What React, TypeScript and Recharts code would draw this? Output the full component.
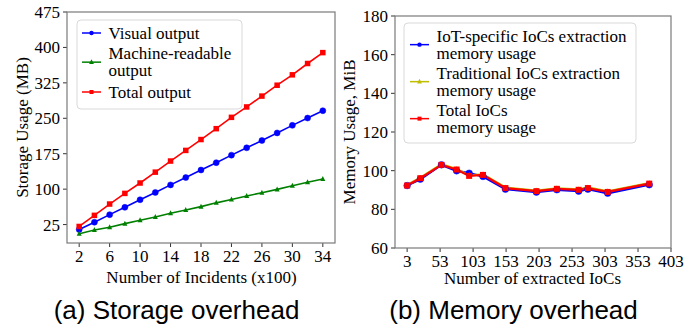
import React from "react";
import { LineChart, Line, XAxis, YAxis } from "recharts";

// ---------- Data: (a) Storage overhead ----------
const incidents = [2, 4, 6, 8, 10, 12, 14, 16, 18, 20, 22, 24, 26, 28, 30, 32, 34];
const visualOutput = [14.5, 30, 46, 61.5, 77.5, 93, 109, 124.5, 140.5, 156, 172, 187.5, 203, 219, 235, 250.5, 266];
const machineOutput = [5.5, 13.5, 19.5, 27, 34, 41, 49, 56, 63, 71, 78, 85.5, 92.5, 99.5, 107, 114.5, 121.5];
const totalOutput = [21, 44.5, 68.5, 91, 113, 136, 159.5, 182, 205, 228, 252, 274, 297, 320, 342, 366, 389];
const storageXTicks = [2, 6, 10, 14, 18, 22, 26, 30, 34];
const storageYTicks = [25, 100, 175, 250, 325, 400, 475];

// ---------- Data: (b) Memory overhead ----------
const iocCounts = [3, 23, 55, 78, 97, 118, 152, 199, 230, 263, 277, 307, 370];
const iotMem = [92.3, 95.6, 103, 99.9, 98.7, 97, 90.4, 88.9, 90.1, 89.4, 90.4, 88.3, 92.7];
const tradMem = [92.6, 96.4, 103.3, 100.9, 97.6, 98.1, 91.3, 89.7, 90.9, 90.4, 91.3, 89.3, 93.6];
const totalMem = [92.3, 96.1, 103, 100.6, 97.3, 97.8, 91, 89.4, 90.6, 90.1, 91, 89, 93.3];
const memXTicks = [3, 53, 103, 153, 203, 253, 303, 353, 403];
const memYTicks = [60, 80, 100, 120, 140, 160, 180];

const storageData = incidents.map((x, i) => ({
  x,
  visual: visualOutput[i],
  machine: machineOutput[i],
  total: totalOutput[i],
}));
const memData = iocCounts.map((x, i) => ({
  x,
  iot: iotMem[i],
  trad: tradMem[i],
  total: totalMem[i],
}));

const SERIF = '"Liberation Serif", "Times New Roman", serif';
const SANS = '"Liberation Sans", Arial, sans-serif';
const BLUE = "#0000ff";
const GREEN = "#008000";
const RED = "#ff0000";
const YELLOW = "#bfbf00";
const FRAME = "#7a7a7a";

const tickStyle = { fill: "#000", fontSize: 17, fontFamily: SERIF, style: { fontFamily: SERIF } };

const circleDot = (r: number, color: string) => (p: any) => (
  <circle key={`c-${p.index}`} cx={p.cx} cy={p.cy} r={r} fill={color} stroke={color} strokeWidth={0.5} />
);
const squareDot = (s: number, color: string) => (p: any) => (
  <rect key={`s-${p.index}`} x={p.cx - s / 2} y={p.cy - s / 2} width={s} height={s} fill={color} />
);
const triDot = (s: number, color: string) => (p: any) => (
  <polygon
    key={`t-${p.index}`}
    points={`${p.cx},${p.cy - s * 0.6} ${p.cx - s / 2},${p.cy + s * 0.4} ${p.cx + s / 2},${p.cy + s * 0.4}`}
    fill={color}
  />
);

// layout
const L = { left: 0, top: 0, w: 340, h: 300, yw: 50, m: { top: 12, right: 5, left: 17, bottom: 27 } };
const R = { left: 340, top: 0, w: 357, h: 300, yw: 45, m: { top: 16, right: 26, left: 10, bottom: 22 } };
const plotRect = (c: typeof L) => ({
  x: c.left + c.m.left + c.yw,
  y: c.top + c.m.top,
  w: c.w - c.m.left - c.yw - c.m.right,
  h: c.h - c.m.top - c.m.bottom - 30,
});

function LegendItem({ x, y, color, marker, lines }: { x: number; y: number; color: string; marker: string; lines: string[] }) {
  const my = y + ((lines.length - 1) * 17.3) / 2;
  const mx = x + 9.5;
  let m: React.ReactNode = null;
  if (marker === "circle") m = <circle cx={mx} cy={my} r={2.2} fill={color} />;
  if (marker === "square") m = <rect x={mx - 2} y={my - 2} width={4} height={4} fill={color} />;
  if (marker === "tri") m = <polygon points={`${mx},${my - 2.8} ${mx - 2.4},${my + 1.8} ${mx + 2.4},${my + 1.8}`} fill={color} />;
  return (
    <g>
      <line x1={x} y1={my} x2={x + 19} y2={my} stroke={color} strokeWidth={1.5} />
      {m}
      {lines.map((t, i) => (
        <text key={i} x={x + 26.5} y={y + i * 17.3} dominantBaseline="central" fontFamily={SERIF} fontSize={17} fill="#000">
          {t}
        </text>
      ))}
    </g>
  );
}

export default function App() {
  const pl = plotRect(L);
  const pr = plotRect(R);
  return (
    <div style={{ position: "absolute", left: 0, top: 0, width: 697, height: 330, background: "#fff" }}>
      <div style={{ position: "absolute", left: L.left, top: L.top }}>
        <LineChart width={L.w} height={L.h} data={storageData} margin={L.m}>
          <XAxis
            dataKey="x"
            type="number"
            domain={[0.4, 35.6]}
            ticks={storageXTicks}
            allowDataOverflow
            height={30}
            tick={tickStyle}
            tickSize={4}
            tickMargin={3}
            axisLine={false}
            tickLine={{ stroke: "#333" }}
          />
          <YAxis
            type="number"
            domain={[-14, 475]}
            ticks={storageYTicks}
            allowDataOverflow
            width={L.yw}
            tick={tickStyle}
            tickSize={4}
            tickMargin={3}
            axisLine={false}
            tickLine={{ stroke: "#333" }}
          />
          <Line dataKey="visual" stroke={BLUE} strokeWidth={1.6} dot={circleDot(3, BLUE)} isAnimationActive={false} />
          <Line dataKey="machine" stroke={GREEN} strokeWidth={1.6} dot={triDot(5, GREEN)} isAnimationActive={false} />
          <Line dataKey="total" stroke={RED} strokeWidth={1.6} dot={squareDot(5.5, RED)} isAnimationActive={false} />
        </LineChart>
      </div>
      <div style={{ position: "absolute", left: R.left, top: R.top }}>
        <LineChart width={R.w} height={R.h} data={memData} margin={R.m}>
          <XAxis
            dataKey="x"
            type="number"
            domain={[-15.4, 403]}
            ticks={memXTicks}
            allowDataOverflow
            height={30}
            tick={tickStyle}
            tickSize={4}
            tickMargin={3}
            axisLine={false}
            tickLine={{ stroke: "#333" }}
          />
          <YAxis
            type="number"
            domain={[60, 180]}
            ticks={memYTicks}
            allowDataOverflow
            width={R.yw}
            tick={tickStyle}
            tickSize={4}
            tickMargin={3}
            axisLine={false}
            tickLine={{ stroke: "#333" }}
          />
          <Line dataKey="iot" stroke={BLUE} strokeWidth={2.2} dot={circleDot(3.3, BLUE)} isAnimationActive={false} />
          <Line dataKey="trad" stroke={YELLOW} strokeWidth={2.2} dot={triDot(5, YELLOW)} isAnimationActive={false} />
          <Line dataKey="total" stroke={RED} strokeWidth={2.2} dot={squareDot(6, RED)} isAnimationActive={false} />
        </LineChart>
      </div>
      <svg width={697} height={330} style={{ position: "absolute", left: 0, top: 0, pointerEvents: "none" }}>
        {/* frames */}
        <rect x={pl.x} y={pl.y} width={pl.w} height={pl.h} fill="none" stroke={FRAME} strokeWidth={1.2} />
        <rect x={pr.x} y={pr.y} width={pr.w} height={pr.h} fill="none" stroke={FRAME} strokeWidth={1.2} />

        {/* legend (a) */}
        <rect x={77} y={20} width={165} height={89} rx={4} fill="rgba(255,255,255,0.8)" stroke="#d9d9d9" strokeWidth={1} />
        <LegendItem x={82} y={33} color={BLUE} marker="circle" lines={["Visual output"]} />
        <LegendItem x={82} y={53.5} color={GREEN} marker="tri" lines={["Machine-readable", "output"]} />
        <LegendItem x={82} y={92} color={RED} marker="square" lines={["Total output"]} />

        {/* legend (b) */}
        <rect x={404} y={23} width={232} height={120} rx={4} fill="rgba(255,255,255,0.8)" stroke="#d9d9d9" strokeWidth={1} />
        <LegendItem x={410} y={36} color={BLUE} marker="circle" lines={["IoT-specific IoCs extraction", "memory usage"]} />
        <LegendItem x={410} y={73} color={YELLOW} marker="tri" lines={["Traditional IoCs extraction", "memory usage"]} />
        <LegendItem x={410} y={110} color={RED} marker="square" lines={["Total IoCs", "memory usage"]} />

        {/* axis titles */}
        <text x={201.5} y={283} textAnchor="middle" fontFamily={SERIF} fontSize={17} fill="#000">
          Number of Incidents (x100)
        </text>
        <text x={532.5} y={284} textAnchor="middle" fontFamily={SERIF} fontSize={17} fill="#000">
          Number of extracted IoCs
        </text>
        <text
          x={22.5}
          y={127.5}
          textAnchor="middle"
          dominantBaseline="central"
          transform="rotate(-90 22.5 127.5)"
          fontFamily={SERIF}
          fontSize={17}
          fill="#000"
        >
          Storage Usage (MB)
        </text>
        <text
          x={349}
          y={132}
          textAnchor="middle"
          dominantBaseline="central"
          transform="rotate(-90 349 132)"
          fontFamily={SERIF}
          fontSize={17}
          fill="#000"
        >
          Memory Usage, MiB
        </text>

        {/* captions */}
        <text x={176.5} y={318.5} textAnchor="middle" fontFamily={SANS} fontSize={26} fill="#000">
          (a) Storage overhead
        </text>
        <text x={513.5} y={318.5} textAnchor="middle" fontFamily={SANS} fontSize={26} fill="#000">
          (b) Memory overhead
        </text>
      </svg>
    </div>
  );
}
